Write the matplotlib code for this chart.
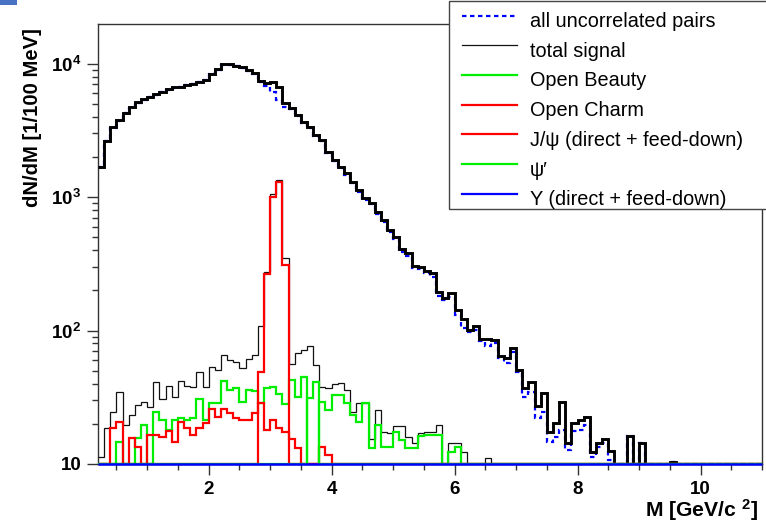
import numpy as np
import matplotlib
matplotlib.use("Agg")
import matplotlib.pyplot as plt
from matplotlib.lines import Line2D
from matplotlib.patches import Rectangle
from matplotlib.ticker import FixedLocator, FuncFormatter, LogLocator, MultipleLocator, NullFormatter

plt.rcParams["font.family"] = ["Liberation Sans", "DejaVu Sans"]
plt.rcParams["mathtext.fontset"] = "custom"
plt.rcParams["mathtext.rm"] = "Liberation Sans:bold"
plt.rcParams["mathtext.it"] = "Liberation Sans:bold:italic"
plt.rcParams["mathtext.bf"] = "Liberation Sans:bold"

# ---------------- data (entries per 100 MeV bin) ----------------
M_MIN, M_MAX, BIN_WIDTH = 0.2, 11.0, 0.1
Y_MIN, Y_MAX = 10, 19800

# uncorrelated pairs + signal (thick black), bins starting at 0.2 GeV
combined = [
    1687, 2642, 3326, 3775, 4285, 4696, 5119, 5395,
    5640, 5876, 6150, 6411, 6637, 6700, 6900, 7063, 7270, 7567,
    8340, 9050, 9860, 9860, 9630, 9360, 8930, 8440, 7400, 7100,
    7220, 6700, 5040, 4620, 4110, 3665, 3365, 2913, 2673, 2185,
    1893, 1687, 1505, 1303, 1129, 978, 897, 776, 673, 566,
    505, 405, 379, 304, 297, 281, 268, 195, 174, 190,
    143, 123, 101, 108, 87, 86, 85, 64, 62, 74,
    51, 37, 41, 27, 34, 17.5, 20.4, 29.3, 14.4, 20.4,
    21.3, 22.4, 12.4, 14.4, 15.3, 12.6, 0, 0, 16.2, 0,
    14.3, 0, 0, 0, 0, 10.4, 0, 0, 0, 0,
    0, 0, 0, 0, 0, 0, 0, 0, 0, 0,
]
# all uncorrelated pairs (blue dashed)
uncorrelated = [
    1676, 2624, 3301, 3740, 4266, 4673, 5092, 5366,
    5613, 5835, 6119, 6373, 6605, 6658, 6862, 7025, 7221, 7529,
    8286, 9000, 9795, 9800, 9572, 9307, 8868, 8375, 7292, 6824,
    6160, 5350, 4689, 4564, 4042, 3594, 3289, 2858, 2635, 2148,
    1853, 1646, 1469, 1278, 1100, 949, 882, 751, 655, 549,
    486, 386, 363, 292, 287, 271, 253, 180, 169, 179,
    131, 104, 98, 101, 84, 76, 80, 62, 57, 69,
    49, 32, 34.8, 22, 24.7, 14.7, 16, 18, 12.7, 17.6,
    18, 19.6, 11.3, 13.5, 14.3, 10.7, 0, 0, 16.2, 0,
    14.3, 0, 0, 0, 0, 10.4, 0, 0, 0, 0,
    0, 0, 0, 0, 0, 0, 0, 0, 0, 0,
]
# total signal (thin black), bins from 0.2 GeV
total_signal = [
    11.2, 18.5, 24.7, 34.8, 19.5, 23.3, 27.5, 29.3,
    26.8, 40.8, 30.8, 38.4, 31.9, 41.6, 38.5, 38.0, 49.0, 37.7,
    53.6, 50.3, 65.5, 60.0, 57.7, 52.6, 61.7, 65.5, 108, 276,
    1060, 1350, 351, 56, 68, 71, 76, 55, 37.7, 37.2,
    39.5, 40.7, 35.8, 24.7, 28.7, 28.7, 15.4, 25.4, 17.5, 17.2,
    19.3, 19.3, 16.0, 14.4, 17.2, 17.5, 17.5, 19.6, 0, 14.3,
    14.3, 12.4, 0, 0, 0, 11.1,
]
# open beauty (green), bins from 0.2 GeV
open_beauty = [
    0, 0, 0, 14.5, 0, 0, 15.6, 19.7,
    0, 24.6, 21.5, 18.1, 21.5, 22, 21.2, 22, 30.6, 21.2,
    28.5, 28.5, 42, 36, 37, 29, 36, 35.5, 28.7, 37,
    38, 33.5, 28, 42.6, 32, 45, 0, 0, 29.2, 25.4,
    33, 32.9, 28.5, 23.3, 20.8, 28.8, 13.1, 19.6, 13.3, 13.3,
    17.5, 15.1, 13.1, 13.1, 16.2, 16.5, 16.5, 16.5, 0, 12.4,
    13.3,
]
# open charm (red), bins from 0.2 GeV
open_charm = [
    0, 0, 18.5, 20.6, 0, 15.6, 13.4, 0,
    16.5, 16.5, 15.9, 17.8, 14.7, 20.8, 18.5, 16.6, 18.5, 20.3,
    26, 22.6, 25.8, 24, 22, 21.5, 21.5, 24, 28.5, 18,
    21.4, 18.5, 17.4, 15.4, 13.2, 0, 0, 0, 13.5, 11.7,
]
jpsi_start, jpsi = 2.8, [49, 265, 1000, 1300, 309]
psi2s_start, psi2s = 3.6, [31, 41]
upsilon_start, upsilon = 9.2, [1, 3, 6, 4, 1]

legend_labels = ["all uncorrelated pairs", "total signal", "Open Beauty", "Open Charm",
                 "J/\u03c8 (direct + feed-down)", "\u03c8\u2032", "\u03a5 (direct + feed-down)"]

# ---------------- helpers ----------------
n_bins = int(round((M_MAX - M_MIN) / BIN_WIDTH))
edges = M_MIN + BIN_WIDTH * np.arange(n_bins + 1)


def full(values, start=M_MIN):
    out = np.zeros(n_bins)
    i0 = int(round((start - M_MIN) / BIN_WIDTH))
    out[i0:i0 + len(values)] = values
    return out


W, H = 766, 527
fig = plt.figure(figsize=(W / 100, H / 100), dpi=100)
fig.patch.set_facecolor("white")


def fx(x):
    return x / W


def fy(y):
    return 1 - y / H


ax = fig.add_axes([fx(98), fy(464), fx(762) - fx(98), fy(24) - fy(464)])

GREEN, RED, BLUE = "#00ee00", "#ff0000", "#0000ff"


def draw(vals, zorder, **kw):
    # ROOT style: bins below the frame minimum are drawn on the frame bottom
    v = np.maximum(np.asarray(vals, float), Y_MIN)
    return ax.stairs(v, edges, baseline=None, zorder=zorder, **kw)


draw(full(uncorrelated), 2, color=BLUE, lw=1.6, linestyle=(0, (2.0, 1.6)))
draw(full(combined), 3, color="black", lw=2.1)
draw(full(total_signal), 4, color="#111111", lw=0.9)
draw(full(open_beauty), 5, color=GREEN, lw=1.6)
draw(full(open_charm), 6, color=RED, lw=1.6)
draw(full(jpsi, jpsi_start), 7, color=RED, lw=1.6)
draw(full(psi2s, psi2s_start), 8, color=GREEN, lw=1.6)
ups = draw(full(upsilon, upsilon_start), 9, color=BLUE, lw=1.8)
ups.set_clip_on(False)

ax.set_xlim(M_MIN, M_MAX)
ax.set_yscale("log")
ax.set_ylim(Y_MIN, Y_MAX)

ax.xaxis.set_major_locator(FixedLocator([2, 4, 6, 8, 10]))
ax.xaxis.set_minor_locator(MultipleLocator(0.5))
ax.yaxis.set_major_locator(FixedLocator([10, 100, 1000, 10000]))
ax.yaxis.set_minor_locator(LogLocator(base=10, subs=np.arange(2, 10)))
ax.yaxis.set_minor_formatter(NullFormatter())
ax.yaxis.set_major_formatter(FuncFormatter(
    lambda v, p: "10" if abs(v - 10) < 1e-6 else "$10^{%d}$" % int(round(np.log10(v)))))
ax.tick_params(which="both", direction="out", top=False, right=False, width=1.0,
               color="#333333", labelcolor="black")
ax.tick_params(which="major", length=8, labelsize=13.5, pad=4)
ax.tick_params(which="minor", length=4)
for lab in ax.get_xticklabels() + ax.get_yticklabels():
    lab.set_fontweight("bold")
for s in ax.spines.values():
    s.set_color("#333333")
    s.set_linewidth(1.0)

fig.text(fx(33), fy(28), "dN/dM [1/100 MeV]", rotation=90, ha="right", va="center",
         rotation_mode="anchor", fontsize=14.6, fontweight="bold")
fig.text(fx(758), fy(517), "M [GeV/c $^{2}$]", ha="right", va="baseline",
         fontsize=15.2, fontweight="bold")

# ---------------- legend (ROOT TLegend look, running off the canvas edge) ----------------
leg_box = Rectangle((fx(449), fy(209)), fx(820) - fx(449), fy(1.5) - fy(209),
                    transform=fig.transFigure, facecolor="white", edgecolor="#444444",
                    lw=1.0, zorder=20)
fig.add_artist(leg_box)
legend_styles = [
    dict(color=BLUE, lw=1.6, linestyle=(0, (2.0, 1.6))),
    dict(color="#111111", lw=0.9),
    dict(color=GREEN, lw=1.6),
    dict(color=RED, lw=1.6),
    dict(color=RED, lw=1.6),
    dict(color=GREEN, lw=1.6),
    dict(color=BLUE, lw=1.6),
]
for i, (lab, st) in enumerate(zip(legend_labels, legend_styles)):
    yc = 15.7 + 29.7 * i
    fig.add_artist(Line2D([fx(461.5), fx(517)], [fy(yc), fy(yc)], transform=fig.transFigure,
                          zorder=21, **st))
    fig.text(fx(530), fy(yc + 11.3), lab, ha="left", va="baseline", fontsize=14.3,
             zorder=22)

# small canvas-corner marker from the original screenshot
fig.add_artist(Rectangle((0, fy(5)), fx(16.5), fy(0) - fy(5), transform=fig.transFigure,
                         facecolor="#4a72c4", edgecolor="none", zorder=30))

fig.savefig("out.png", dpi=100)
